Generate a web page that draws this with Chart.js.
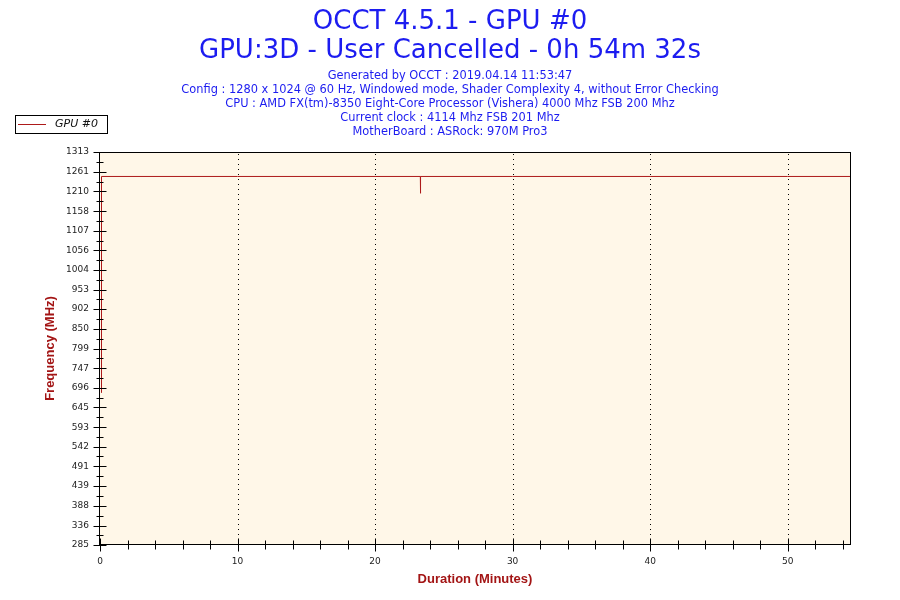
<!DOCTYPE html>
<html>
<head>
<meta charset="utf-8">
<script src="https://cdn.jsdelivr.net/npm/chart.js@4/dist/chart.umd.min.js"></script>
<style>
html,body{margin:0;padding:0;background:#fff;}
#wrap{width:900px;height:600px;position:relative;}
</style>
</head>
<body>
<div id="wrap"><canvas id="c" width="900" height="600"></canvas></div>
<script>
// ---- data ----
const timeMinutes = [0.11, 0.11, 10, 20, 23.29, 23.30, 23.31, 30, 40, 50, 54.53];
const gpuFrequency = [683, 1249, 1249, 1249, 1249, 1205, 1249, 1249, 1249, 1249, 1249];
const yTickLabels = [285, 336, 388, 439, 491, 542, 593, 645, 696, 747, 799, 850, 902, 953, 1004, 1056, 1107, 1158, 1210, 1261, 1313];
const xTickLabels = [0, 10, 20, 30, 40, 50];
const xMinorTicks = [2,4,6,8,12,14,16,18,22,24,26,28,32,34,36,38,42,44,46,48,52,54];
const titleLines = ["OCCT 4.5.1 - GPU #0", "GPU:3D - User Cancelled - 0h 54m 32s"];
const subtitleLines = [
  "Generated by OCCT : 2019.04.14 11:53:47",
  "Config : 1280 x 1024 @ 60 Hz, Windowed mode, Shader Complexity 4, without Error Checking",
  "CPU : AMD FX(tm)-8350 Eight-Core Processor (Vishera) 4000 Mhz FSB 200 Mhz",
  "Current clock : 4114 Mhz FSB 201 Mhz",
  "MotherBoard : ASRock: 970M Pro3"
];
const seriesName = "GPU #0";
const xAxisTitle = "Duration (Minutes)";
const yAxisTitle = "Frequency (MHz)";

const points = timeMinutes.map((t, i) => ({x: t, y: gpuFrequency[i]}));
const lineColor = "#ad1a1a";

const decor = {
  id: 'decor',
  beforeDatasetsDraw(chart) {
    const {ctx, chartArea: a, scales} = chart;
    ctx.save();
    ctx.fillStyle = "#fff7e8";
    ctx.fillRect(a.left, a.top, a.right - a.left, a.bottom - a.top);
    ctx.strokeStyle = "#000";
    ctx.lineWidth = 1;
    ctx.setLineDash([1, 4]);
    xTickLabels.forEach(v => {
      if (v === 0) return;
      const x = Math.round(scales.x.getPixelForValue(v)) + 0.5;
      ctx.beginPath(); ctx.moveTo(x, a.top + 2); ctx.lineTo(x, a.bottom); ctx.stroke();
    });
    ctx.setLineDash([]);
    ctx.restore();
  },
  afterDatasetsDraw(chart) {
    const {ctx, chartArea: a, scales} = chart;
    ctx.save();
    ctx.strokeStyle = "#000";
    ctx.lineWidth = 1;
    ctx.strokeRect(Math.round(a.left) - 0.5, Math.round(a.top) + 0.5, Math.round(a.right - a.left) + 1, Math.round(a.bottom - a.top) - 1);
    const L = Math.round(a.left) - 0.5;
    ctx.beginPath();
    yTickLabels.forEach((v, i) => {
      const y = Math.round(scales.y.getPixelForValue(v)) + 0.5;
      ctx.moveTo(L - 6, y); ctx.lineTo(L + 7, y);
      if (i < yTickLabels.length - 1) {
        const ym = Math.round(scales.y.getPixelForValue((v + yTickLabels[i + 1]) / 2)) + 0.5;
        ctx.moveTo(L - 3, ym); ctx.lineTo(L + 4, ym);
      }
    });
    const B = Math.round(a.bottom) - 0.5;
    xTickLabels.forEach(v => {
      const x = Math.round(scales.x.getPixelForValue(v)) + 0.5;
      ctx.moveTo(x, B - 6); ctx.lineTo(x, B + 7);
    });
    xMinorTicks.forEach(v => {
      const x = Math.round(scales.x.getPixelForValue(v)) + 0.5;
      ctx.moveTo(x, B - 4); ctx.lineTo(x, B + 5);
    });
    ctx.stroke();

    // titles
    ctx.textAlign = "center";
    ctx.textBaseline = "middle";
    ctx.fillStyle = "#1c1cf0";
    ctx.font = "26px 'DejaVu Sans'";
    ctx.fillText(titleLines[0], 450, 22);
    ctx.fillText(titleLines[1], 450, 51.5);
    ctx.font = "11.4px 'DejaVu Sans'";
    subtitleLines.forEach((s, i) => ctx.fillText(s, 450, 76.5 + i * 13.8));

    // legend
    ctx.fillStyle = "#fff";
    ctx.fillRect(15.5, 115.5, 92, 18);
    ctx.strokeStyle = "#000";
    ctx.strokeRect(15.5, 115.5, 92, 18);
    ctx.strokeStyle = lineColor;
    ctx.beginPath(); ctx.moveTo(18, 124.5); ctx.lineTo(46, 124.5); ctx.stroke();
    ctx.fillStyle = "#111";
    ctx.textAlign = "left";
    ctx.font = "italic 11px 'DejaVu Sans'";
    ctx.fillText(seriesName, 55, 124.5);

    // axis titles
    ctx.fillStyle = "#a31515";
    ctx.font = "bold 13px 'Liberation Sans'";
    ctx.textAlign = "center";
    ctx.fillText(xAxisTitle, (a.left + a.right) / 2, 579);
    ctx.save();
    ctx.translate(50, (a.top + a.bottom) / 2);
    ctx.rotate(-Math.PI / 2);
    ctx.fillText(yAxisTitle, 0, 0);
    ctx.restore();
    ctx.restore();
  }
};

new Chart(document.getElementById('c'), {
  type: 'line',
  data: {
    datasets: [{
      label: seriesName,
      data: points,
      borderColor: lineColor,
      borderWidth: 1,
      pointRadius: 0,
      tension: 0,
      fill: false
    }]
  },
  options: {
    responsive: false,
    animation: false,
    devicePixelRatio: 1,
    layout: {padding: {left: 0, right: 50, top: 152, bottom: 0}},
    plugins: {legend: {display: false}, title: {display: false}, tooltip: {enabled: false}},
    scales: {
      x: {
        type: 'linear',
        min: 0, max: 54.53,
        afterBuildTicks: s => { s.ticks = xTickLabels.map(v => ({value: v})); },
        afterFit: s => { s.height = 55; },
        grid: {display: false, drawTicks: false},
        border: {display: false},
        ticks: {color: "#222", font: {family: "DejaVu Sans", size: 9}, padding: 11, maxRotation: 0, autoSkip: false}
      },
      y: {
        type: 'linear',
        min: 285, max: 1313,
        afterBuildTicks: s => { s.ticks = yTickLabels.map(v => ({value: v})); },
        afterFit: s => { s.width = 100; },
        grid: {display: false, drawTicks: false},
        border: {display: false},
        ticks: {color: "#222", font: {family: "DejaVu Sans", size: 9}, padding: 11, autoSkip: false, callback: v => String(v)}
      }
    }
  },
  plugins: [decor]
});
</script>
</body>
</html>
